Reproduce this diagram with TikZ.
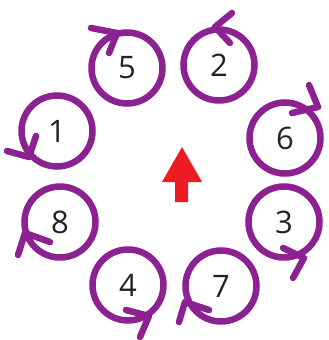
\documentclass[tikz,border=0pt]{standalone}
\usepackage{fontspec}
\setmainfont{Open Sans}
\definecolor{ringpurple}{RGB}{140,34,146}
\definecolor{arrowred}{RGB}{237,28,36}
\definecolor{digit}{RGB}{34,34,34}
\begin{document}
\begin{tikzpicture}[x=1pt,y=-1pt,
  ring/.style={circle,draw=ringpurple,line width=6.5pt,minimum size=71pt,inner sep=0pt,
    text=digit,font=\fontsize{31}{31}\selectfont},
  chevron/.style={draw=ringpurple,line width=6.5pt,line cap=round,line join=round}]
\useasboundingbox (0,0) rectangle (329,340);
% rings
\node[ring] (c5) at (127,68) {5};
\node[ring] (c2) at (219,65) {2};
\node[ring] (c1) at (57,131) {1};
\node[ring] (c6) at (285,138) {6};
\node[ring] (c8) at (60,222) {8};
\node[ring] (c3) at (284,222) {3};
\node[ring] (c4) at (128,285) {4};
\node[ring] (c7) at (221,286) {7};
% arrowheads
\path[chevron] (91,28) -- (117,33) -- (109,53);
\path[chevron] (232,13) -- (215,27) -- (230,43);
\path[chevron] (36,136) -- (29,157) -- (7,151);
\path[chevron] (309,85) -- (318,107) -- (292,113);
\path[chevron] (50,242) -- (25,233) -- (18,255);
\path[chevron] (283,248) -- (304,258) -- (293,278);
\path[chevron] (126,310) -- (149,316) -- (140,337);
\path[chevron] (209,310) -- (185,302) -- (179,322);
% red arrow
\fill[arrowred] (182,147) -- (202,182) -- (188,182) -- (188,202) -- (175,202) -- (175,182) -- (162,182) -- cycle;
\end{tikzpicture}
\end{document}
